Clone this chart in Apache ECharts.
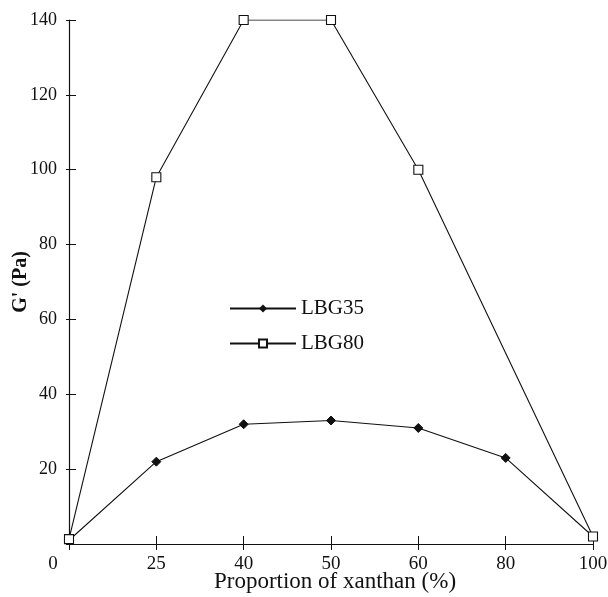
<!DOCTYPE html>
<html>
<head>
<meta charset="utf-8">
<script src="https://cdn.jsdelivr.net/npm/echarts@6/dist/echarts.min.js"></script>
<style>
  html, body { margin: 0; padding: 0; background: #fff; }
  #chart { width: 608px; height: 597px; }
</style>
</head>
<body>
<div id="chart"></div>
<script>
// xanthan proportion (%) - plotted evenly spaced in the original
const categories = ['0', '25', '40', '50', '60', '80', '100'];
const lbg35 = [1, 22, 32, 33, 31, 23, 2];
// no LBG80 measurement at 80 %, line joins 60 -> 100
const lbg80 = [1.3, 98, 140, 140, 100, null, 2];
const yTicks = { min: 0, max: 140, interval: 20 };

const serif = 'Liberation Serif';
const ink = '#111';

const chart = echarts.init(document.getElementById('chart'));

// second x / y axis only adds the other half of the ticks (they cross the axis line)
const tickOnlyX = {
  type: 'category',
  data: categories,
  boundaryGap: false,
  position: 'bottom',
  axisLine: { show: false },
  axisTick: { inside: false, length: 6, lineStyle: { color: ink } },
  axisLabel: { show: false },
  splitLine: { show: false },
};
const tickOnlyY = {
  type: 'value',
  min: yTicks.min,
  max: yTicks.max,
  interval: yTicks.interval,
  position: 'left',
  axisLine: { show: false },
  axisTick: { show: true, inside: true, length: 7, lineStyle: { color: ink } },
  axisLabel: { show: false },
  splitLine: { show: false },
};

chart.setOption({
  animation: false,
  backgroundColor: '#fff',
  grid: {
    left: 69,
    right: 15,
    top: 20,
    bottom: 53,
    containLabel: false,
    outerBoundsMode: 'none',
  },
  legend: {
    orient: 'vertical',
    left: 224,
    top: 293,
    itemWidth: 66,
    itemHeight: 10,
    itemGap: 14,
    textStyle: { fontFamily: serif, fontSize: 21, color: ink },
    data: ['LBG35', 'LBG80'],
  },
  xAxis: [
    {
      type: 'category',
      data: categories,
      boundaryGap: false,
      name: 'Proportion of xanthan (%)',
      nameLocation: 'middle',
      nameGap: 26,
      nameMoveOverlap: false,
      nameTextStyle: { fontFamily: serif, fontSize: 23, color: ink, padding: [0, 0, 0, 8] },
      axisLine: { lineStyle: { color: ink, width: 1.2 } },
      axisTick: { inside: true, length: 8, lineStyle: { color: ink } },
      axisLabel: {
        fontFamily: serif,
        fontSize: 19,
        color: ink,
        margin: 11,
        formatter: (v, i) => (i === 0 ? '{z|' + v + '}' : v),
        rich: { z: { fontFamily: serif, fontSize: 19, color: ink, padding: [0, 32, 0, 0] } },
      },
      splitLine: { show: false },
    },
    tickOnlyX,
  ],
  yAxis: [
    {
      type: 'value',
      min: yTicks.min,
      max: yTicks.max,
      interval: yTicks.interval,
      name: "G' (Pa)",
      nameLocation: 'middle',
      nameGap: 38,
      nameMoveOverlap: false,
      nameRotate: 90,
      nameTextStyle: { fontFamily: serif, fontSize: 20, fontWeight: 'bold', color: ink },
      axisLine: { show: true, lineStyle: { color: ink, width: 1.2 } },
      axisTick: { show: true, length: 3, lineStyle: { color: ink } },
      axisLabel: {
        fontFamily: serif,
        fontSize: 18,
        color: ink,
        margin: 12,
        formatter: (v) => (v === 0 ? '' : String(v)),
      },
      splitLine: { show: false },
    },
    tickOnlyY,
  ],
  series: [
    {
      name: 'LBG35',
      type: 'line',
      data: lbg35,
      symbol: 'diamond',
      symbolSize: 9,
      lineStyle: { color: ink, width: 1.1 },
      itemStyle: { color: ink, borderColor: ink },
      z: 3,
    },
    {
      name: 'LBG80',
      type: 'line',
      data: lbg80,
      connectNulls: true,
      symbol: 'rect',
      symbolSize: 9,
      showAllSymbol: true,
      lineStyle: { color: ink, width: 1.1 },
      itemStyle: { color: '#fff', borderColor: ink, borderWidth: 1.1 },
      z: 4,
    },
  ],
});
</script>
</body>
</html>
